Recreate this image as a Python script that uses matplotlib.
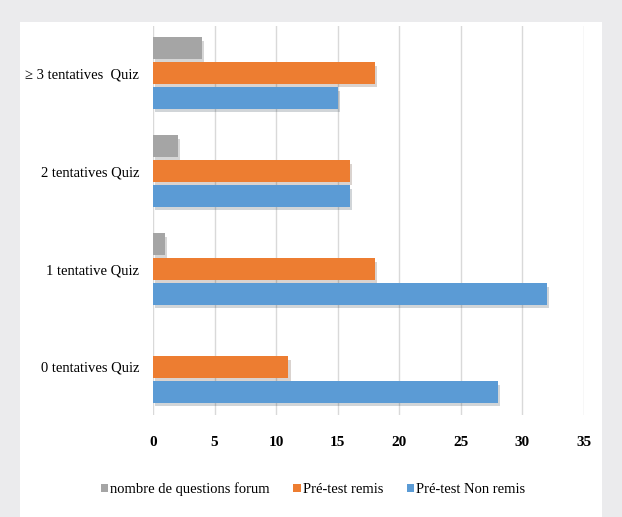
import numpy as np
import matplotlib.pyplot as plt
import matplotlib.patheffects as pe
from matplotlib.patches import Rectangle

# données (de bas en haut)
categories = ['0 tentatives Quiz', '1 tentative Quiz', '2 tentatives Quiz', '\u2265 3 tentatives  Quiz']
forum = [0, 1, 2, 4]
remis = [11, 18, 16, 18]
non_remis = [28, 32, 16, 15]
series_labels = ['nombre de questions forum', 'Pré-test remis', 'Pré-test Non remis']
xticks = [0, 5, 10, 15, 20, 25, 30, 35]

plt.rcParams['font.family'] = ['Liberation Serif', 'DejaVu Serif']

fig = plt.figure(figsize=(6.22, 5.17), dpi=100)
fig.patch.set_facecolor('#ebebed')
# panneau blanc
fig.add_artist(Rectangle((20 / 622, 0), 582 / 622, 1 - 22 / 517, transform=fig.transFigure,
                         facecolor='white', edgecolor='none', zorder=0))

ax = fig.add_axes([153 / 622, 1 - 415 / 517, (584 - 153) / 622, (415 - 26) / 517])
ax.set_facecolor('none')

y = np.arange(len(categories))
step = 0.255
h = 0.22
shadow = [pe.SimplePatchShadow(offset=(1.5, -2.5), alpha=0.2), pe.Normal()]

b1 = ax.barh(y + step, forum, height=h, color='#a5a5a5', label=series_labels[0], zorder=3)
b2 = ax.barh(y, remis, height=h, color='#ed7d31', label=series_labels[1], zorder=3)
b3 = ax.barh(y - step, non_remis, height=h, color='#5b9bd5', label=series_labels[2], zorder=3)
for bars in (b1, b2, b3):
    for b in bars:
        b.set_path_effects(shadow)

ax.set_xlim(0, 35)
ax.set_ylim(-0.49, 3.48)
ax.set_xticks(xticks)
ax.set_yticks(y)
ax.set_yticklabels(categories, fontsize=10.5)
ax.set_xticklabels([str(t) for t in xticks], fontsize=11, fontweight='bold')
ax.tick_params(axis='both', length=0)
ax.tick_params(axis='y', pad=10)
ax.tick_params(axis='x', pad=15)
ax.grid(axis='x', color='#d9d9d9', linewidth=1, zorder=0)
for s in ax.spines.values():
    s.set_visible(False)

leg = fig.legend(handles=[b1, b2, b3], labels=series_labels, loc='center',
                 bbox_to_anchor=(313 / 622, 1 - 489 / 517), ncol=3, frameon=False,
                 fontsize=10.5, handlelength=0.5, handleheight=0.5, handletextpad=0.15,
                 columnspacing=1.6)
for hnd in leg.legend_handles:
    hnd.set_path_effects([])

plt.savefig('out.png', dpi=100, facecolor=fig.get_facecolor())
